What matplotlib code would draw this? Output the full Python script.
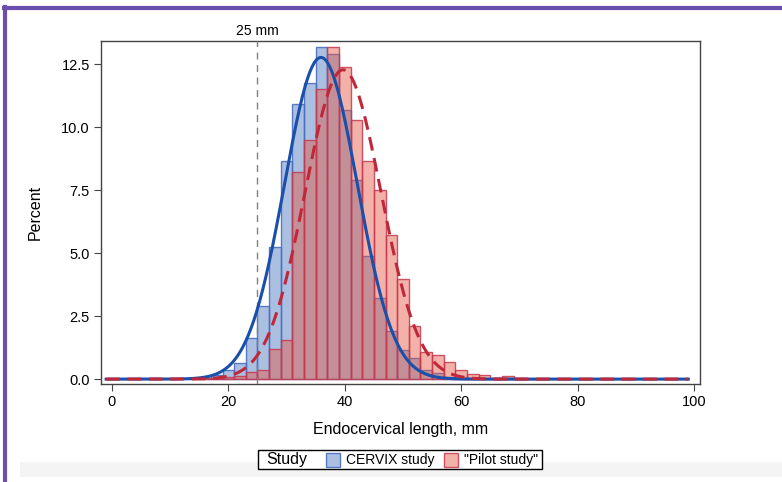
import numpy as np
import matplotlib.pyplot as plt
from matplotlib.colors import to_rgba
from matplotlib.patches import Rectangle
from matplotlib.offsetbox import AnchoredOffsetbox, HPacker, TextArea, DrawingArea

plt.rcParams['font.family'] = ['Liberation Sans', 'DejaVu Sans']

# histogram data, bin width 2 mm, midpoints 14..72
bin_mid = np.arange(14, 74, 2)
cervix_pct = [0.02, 0.05, 0.15, 0.36, 0.65, 1.64, 2.9, 5.23, 8.65, 10.9,
              11.76, 13.2, 12.9, 10.67, 7.92, 4.88, 3.2, 1.9, 1.15, 0.82,
              0.36, 0.23, 0.1, 0.05, 0.02, 0, 0, 0, 0, 0]
pilot_pct = [0, 0.03, 0.05, 0.1, 0.13, 0.27, 0.36, 1.18, 1.57, 8.2,
             9.48, 11.5, 13.2, 12.37, 10.3, 8.66, 7.5, 5.71, 3.96, 2.1,
             1.08, 0.95, 0.66, 0.36, 0.2, 0.15, 0.05, 0.12, 0.03, 0.02]
bin_width = 2

# fitted normal curves (mean, sd)
cervix_fit = (35.9, 6.25)
pilot_fit = (39.7, 6.5)

ref_line = 25
study_labels = ['CERVIX study', '"Pilot study"']

blue_fill = to_rgba('#5179C1', 0.48)
blue_edge = to_rgba('#4a6fc0', 0.9)
red_fill = to_rgba('#E55541', 0.45)
red_edge = to_rgba('#c8384f', 0.85)

fig = plt.figure(figsize=(7.82, 4.82), dpi=100)
ax = fig.add_axes([0.129, 0.203, 0.766, 0.712])

bm = np.array(bin_mid)
cv = np.array(cervix_pct)
pv = np.array(pilot_pct)
ax.bar(bm[cv > 0], cv[cv > 0], width=bin_width, facecolor=blue_fill,
       edgecolor=blue_edge, linewidth=1, zorder=2)
ax.bar(bm[pv > 0], pv[pv > 0], width=bin_width, facecolor=red_fill,
       edgecolor=red_edge, linewidth=1, zorder=3)

xs = np.linspace(-1, 99, 600)


def normal_pct(x, mu, sd):
    return 100 * bin_width * np.exp(-0.5 * ((x - mu) / sd) ** 2) / (sd * np.sqrt(2 * np.pi))


ax.plot(xs, normal_pct(xs, *cervix_fit), color='#1a4faa', lw=2.2, zorder=5)
ax.plot(xs, normal_pct(xs, *pilot_fit), color='#c0283a', lw=2.2,
        dashes=(4.5, 2.5), zorder=6)

ax.axvline(ref_line, color='#808080', lw=1, dashes=(5, 4), zorder=4)
ax.text(ref_line, 13.42 + 0.1, '25 mm', ha='center', va='bottom', fontsize=10,
        clip_on=False)

ax.set_xlim(-1.9, 101)
ax.set_ylim(-0.2, 13.42)
ax.set_xticks([0, 20, 40, 60, 80, 100])
ax.set_yticks([0, 2.5, 5, 7.5, 10, 12.5])
ax.set_yticklabels(['0.0', '2.5', '5.0', '7.5', '10.0', '12.5'])
ax.tick_params(labelsize=10.5, length=5, color='#444444', pad=3)
for s in ax.spines.values():
    s.set_color('#444444')
    s.set_linewidth(1)
ax.set_xlabel('Endocervical length, mm', fontsize=11.5, labelpad=9)
ax.set_ylabel('Percent', fontsize=11.5, labelpad=13)


# legend built from offset boxes: "Study" then two swatches
def swatch(fc, ec):
    da = DrawingArea(10, 10, 0, 0)
    da.add_artist(Rectangle((0, 0), 10, 10, facecolor=fc, edgecolor=ec, lw=1))
    return da


def spacer(w):
    return DrawingArea(w, 1, 0, 0)


entries = []
for (fc, ec), lab in zip([(blue_fill, blue_edge), (red_fill, red_edge)], study_labels):
    entries.append(HPacker(children=[swatch(fc, ec), TextArea(lab, textprops=dict(fontsize=10))],
                           sep=4, align='center'))
pack = HPacker(children=[spacer(2), TextArea('Study', textprops=dict(fontsize=11.5)),
                         spacer(10), entries[0], spacer(3), entries[1], spacer(0)],
               sep=2, align='center')
box = AnchoredOffsetbox(loc='upper center', child=pack, pad=0.15, borderpad=0,
                        bbox_to_anchor=(0.512, 0.066), bbox_transform=fig.transFigure,
                        frameon=True)
box.patch.set_edgecolor('black')
box.patch.set_linewidth(1)
box.patch.set_boxstyle('square', pad=0)
fig.add_artist(box)

# purple page border and light strip at bottom
fig.add_artist(plt.Line2D([0.0065, 0.0065], [0, 0.986], transform=fig.transFigure,
                          color='#6b4fae', lw=3))
fig.add_artist(plt.Line2D([0.005, 1], [0.984, 0.984], transform=fig.transFigure,
                          color='#6b4fae', lw=3))
fig.add_artist(Rectangle((0.026, 0.010), 0.974, 0.031, transform=fig.transFigure,
                         facecolor='#f4f4f4', edgecolor='none', zorder=-1))

fig.savefig('out.png', dpi=100)
